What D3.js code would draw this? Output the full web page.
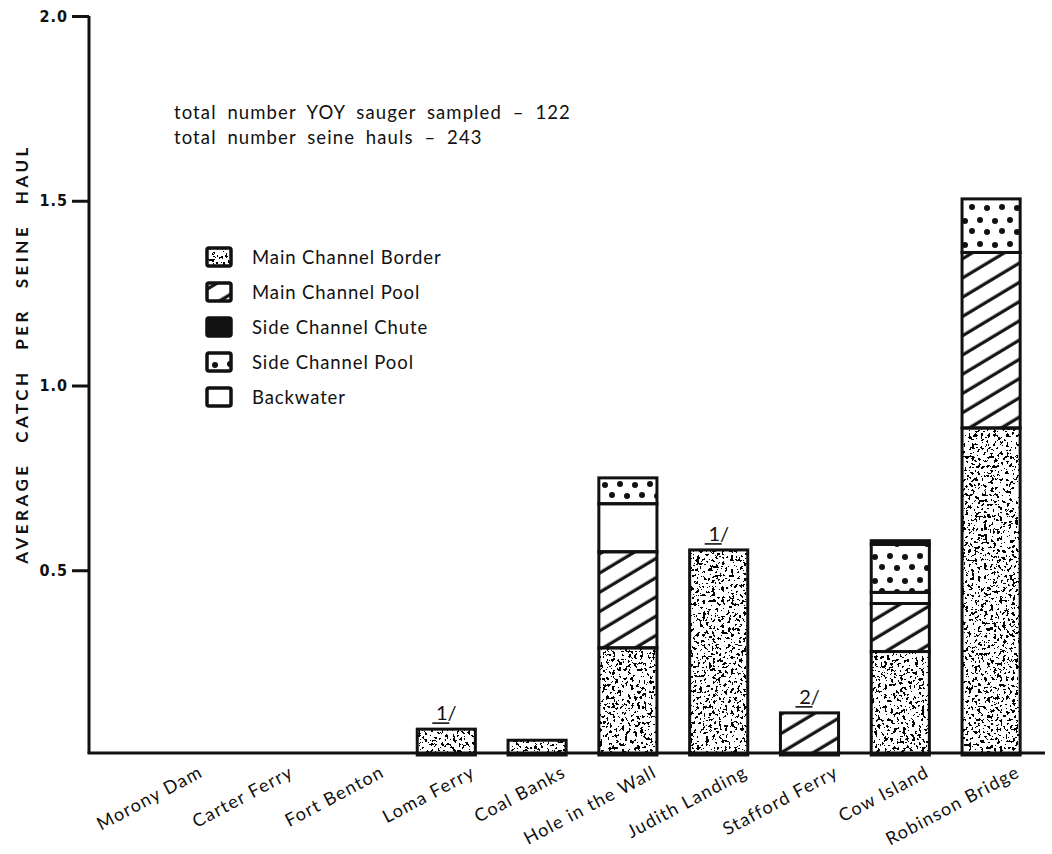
<!DOCTYPE html>
<html>
<head>
<meta charset="utf-8">
<script src="https://cdn.jsdelivr.net/npm/d3@7"></script>
<style>
  html, body { margin: 0; padding: 0; background: #ffffff; }
  svg { display: block; }
  .lbl { font-family: Lato, "Open Sans", sans-serif; fill: #111; }
  .tick-lbl { font-family: "Liberation Sans Narrow", "DejaVu Sans Condensed", sans-serif; font-weight: bold; fill: #111; }
</style>
</head>
<body>
<svg id="chart" width="1052" height="854"></svg>
<script>
// Sauger YOY catch per seine haul by sampling site, stacked by habitat type
const categories = ["Morony Dam", "Carter Ferry", "Fort Benton", "Loma Ferry", "Coal Banks",
                    "Hole in the Wall", "Judith Landing", "Stafford Ferry", "Cow Island", "Robinson Bridge"];
const mainChannelBorder = [0, 0, 0, 0.07, 0.04, 0.29, 0.555, 0, 0.28, 0.885];
const mainChannelPool   = [0, 0, 0, 0, 0, 0.26, 0, 0.114, 0.13, 0.475];
const backwater         = [0, 0, 0, 0, 0, 0.13, 0, 0, 0.03, 0];
const sideChannelPool   = [0, 0, 0, 0, 0, 0.07, 0, 0, 0.13, 0.145];
const sideChannelChute  = [0, 0, 0, 0, 0, 0, 0, 0, 0.01, 0];
const footnotes = ["", "", "", "1/", "", "", "1/", "2/", "", ""];
const yTicks = [0.5, 1.0, 1.5, 2.0];
const legendItems = ["Main Channel Border", "Main Channel Pool", "Side Channel Chute", "Side Channel Pool", "Backwater"];
const notes = ["total number YOY sauger sampled \u2013 122", "total number seine hauls \u2013 243"];

// stack order, bottom to top
const stackKeys = ["Main Channel Border", "Main Channel Pool", "Backwater", "Side Channel Pool", "Side Channel Chute"];
const table = categories.map((c, i) => ({
  site: c,
  "Main Channel Border": mainChannelBorder[i],
  "Main Channel Pool": mainChannelPool[i],
  "Backwater": backwater[i],
  "Side Channel Pool": sideChannelPool[i],
  "Side Channel Chute": sideChannelChute[i]
}));

const svg = d3.select("#chart");
const defs = svg.append("defs");

// speckle texture
const f = defs.append("filter").attr("id", "stipple")
  .attr("filterUnits", "objectBoundingBox").attr("x", 0).attr("y", 0).attr("width", 1).attr("height", 1)
  .attr("color-interpolation-filters", "sRGB");
f.append("feTurbulence").attr("type", "fractalNoise").attr("baseFrequency", 0.32)
  .attr("numOctaves", 3).attr("seed", 4).attr("result", "noise");
f.append("feColorMatrix").attr("in", "noise").attr("type", "matrix")
  .attr("values", "0 0 0 0 0  0 0 0 0 0  0 0 0 0 0  1 0 0 0 0").attr("result", "na");
f.append("feComponentTransfer").attr("in", "na").attr("result", "spk")
  .append("feFuncA").attr("type", "discrete")
  .attr("tableValues", "0 0 0 0 0 0 0 0 0 0 0 0 1 1 1 1 1 1 1 1");
f.append("feFlood").attr("flood-color", "#ffffff").attr("result", "bg");
const fm = f.append("feMerge");
fm.append("feMergeNode").attr("in", "bg");
fm.append("feMergeNode").attr("in", "spk");

// diagonal hatching
const hatch = defs.append("pattern").attr("id", "hatch").attr("patternUnits", "userSpaceOnUse")
  .attr("width", 16.5).attr("height", 16.5).attr("patternTransform", "rotate(-31)");
hatch.append("rect").attr("width", 16.5).attr("height", 16.5).attr("fill", "#fff");
hatch.append("line").attr("x1", 0).attr("x2", 16.5).attr("y1", 8).attr("y2", 8)
  .attr("stroke", "#111").attr("stroke-width", 3.2);

// coarse dots
const dots = defs.append("pattern").attr("id", "dots").attr("patternUnits", "userSpaceOnUse")
  .attr("width", 30).attr("height", 24);
dots.append("rect").attr("width", 30).attr("height", 24).attr("fill", "#fff");
[[5, 5], [20, 4], [12, 15], [27, 16]].forEach(([cx, cy]) =>
  dots.append("circle").attr("cx", cx).attr("cy", cy).attr("r", 3).attr("fill", "#111"));

const fills = {
  "Main Channel Border": { fill: "#111", filter: "url(#stipple)" },
  "Main Channel Pool":   { fill: "url(#hatch)", filter: null },
  "Side Channel Chute":  { fill: "#111", filter: null },
  "Side Channel Pool":   { fill: "url(#dots)", filter: null },
  "Backwater":           { fill: "#fff", filter: null }
};

const x = d3.scaleBand().domain(categories).range([128.5, 1036.5]).paddingInner(0.36).paddingOuter(0.18);
const y = d3.scaleLinear().domain([0, 2]).range([755, 16]);

const series = d3.stack().keys(stackKeys)(table);

const barG = svg.append("g");
series.forEach(s => {
  const st = fills[s.key];
  barG.selectAll(null).data(s.filter(d => d[1] - d[0] > 0)).enter().append("rect")
    .attr("x", d => x(d.data.site)).attr("width", x.bandwidth())
    .attr("y", d => y(d[1])).attr("height", d => y(d[0]) - y(d[1]))
    .attr("fill", st.fill).attr("filter", st.filter);
});
series.forEach(s => {
  barG.selectAll(null).data(s.filter(d => d[1] - d[0] > 0)).enter().append("rect")
    .attr("x", d => x(d.data.site)).attr("width", x.bandwidth())
    .attr("y", d => y(d[1])).attr("height", d => y(d[0]) - y(d[1]))
    .attr("fill", "none").attr("stroke", "#111").attr("stroke-width", 3);
});

// footnote markers above bars
const totals = table.map(d => stackKeys.reduce((a, k) => a + d[k], 0));
categories.forEach((c, i) => {
  if (!footnotes[i]) return;
  const cx = x(c) + x.bandwidth() / 2;
  const ty = y(totals[i]) - 9;
  svg.append("text").attr("class", "lbl").attr("x", cx).attr("y", ty)
    .attr("text-anchor", "middle").attr("font-size", 20).text(footnotes[i]);
  svg.append("line").attr("x1", cx - 14).attr("x2", cx + 3).attr("y1", ty + 3).attr("y2", ty + 3)
    .attr("stroke", "#111").attr("stroke-width", 1.6);
});

// axes
const yAxis = d3.axisLeft(y).tickValues(yTicks).tickSize(17).tickFormat(d3.format(".1f"));
const ya = svg.append("g").attr("transform", "translate(89,0)").call(yAxis);
ya.select(".domain").remove();
ya.selectAll(".tick line").attr("stroke", "#111").attr("stroke-width", 3);
ya.selectAll(".tick text").attr("class", "tick-lbl").attr("font-size", 16).attr("x", -21)
  .attr("letter-spacing", 1);
svg.append("line").attr("x1", 89).attr("x2", 89).attr("y1", 16).attr("y2", y(0) - 2)
  .attr("stroke", "#111").attr("stroke-width", 3);
svg.append("line").attr("x1", 87.5).attr("x2", 1045).attr("y1", 753).attr("y2", 753)
  .attr("stroke", "#111").attr("stroke-width", 3);

// site labels, slanted
categories.forEach(c => {
  const ax = x(c) + x.bandwidth() / 2 + 30;
  svg.append("text").attr("class", "lbl").attr("font-size", 18).attr("letter-spacing", 1.3)
    .attr("text-anchor", "end")
    .attr("transform", `translate(${ax},776) rotate(-28)`).text(c);
});

// y axis title
svg.append("text").attr("class", "lbl").attr("font-size", 17).attr("font-weight", "bold")
  .attr("letter-spacing", 3.5).attr("word-spacing", 12).attr("text-anchor", "middle")
  .attr("transform", "translate(28,354) rotate(-90)").text("AVERAGE CATCH PER SEINE HAUL");

// sample size notes
notes.forEach((t, i) => {
  svg.append("text").attr("class", "lbl").attr("font-size", 18.5).attr("letter-spacing", 1.1)
    .attr("word-spacing", 5).attr("x", 174).attr("y", 119 + i * 25).text(t);
});

// legend
const lg = svg.append("g");
legendItems.forEach((k, i) => {
  const cy = 257 + i * 35;
  const st = fills[k];
  lg.append("rect").attr("x", 207).attr("y", cy - 9).attr("width", 24).attr("height", 18)
    .attr("fill", st.fill).attr("filter", st.filter);
  lg.append("rect").attr("x", 207).attr("y", cy - 9).attr("width", 24).attr("height", 18)
    .attr("rx", 2).attr("fill", "none").attr("stroke", "#111").attr("stroke-width", 3.5);
  lg.append("text").attr("class", "lbl").attr("font-size", 18.5).attr("letter-spacing", 0.9)
    .attr("x", 252).attr("y", cy + 6.5).text(k);
});
</script>
</body>
</html>
